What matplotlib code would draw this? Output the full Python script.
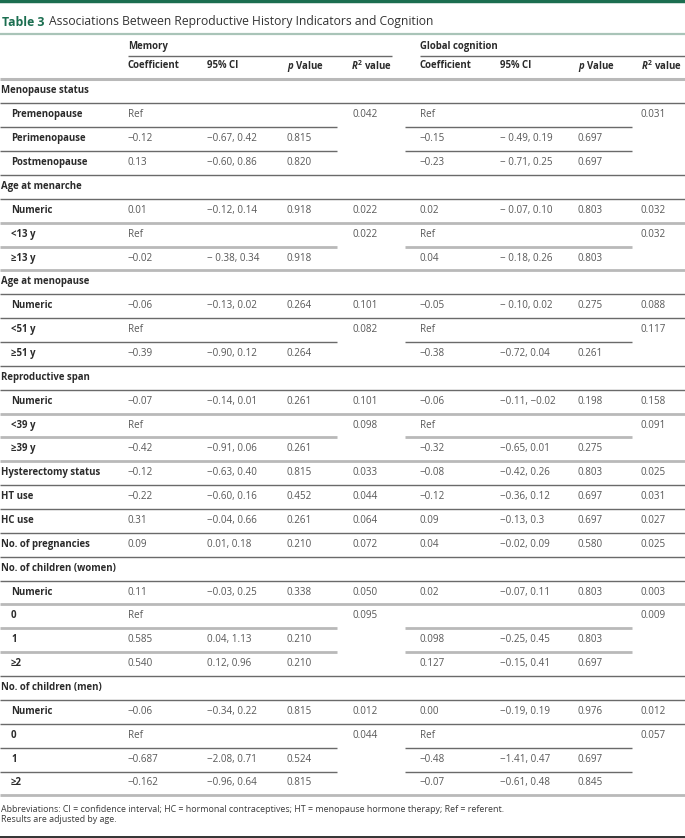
import matplotlib.pyplot as plt
from matplotlib.lines import Line2D

plt.rcParams["font.family"] = ["Open Sans", "DejaVu Sans"]
plt.rcParams["mathtext.fontset"] = "custom"
plt.rcParams["mathtext.it"] = "Open Sans:italic:bold"
plt.rcParams["mathtext.rm"] = "Open Sans:bold"

W, H = 685, 838

TITLE_TAG = "Table 3"
TITLE = "Associations Between Reproductive History Indicators and Cognition"
GROUPS = ["Memory", "Global cognition"]
SUBHEADERS = ["Coefficient", "95% CI", r"$\mathit{p}$ Value", r"$\mathit{R}^{2}$ value"]

# kind: "h" = section header, "s" = indented sub-row, "r" = single row
labels = [
    "Menopause status", "Premenopause", "Perimenopause", "Postmenopause",
    "Age at menarche", "Numeric", "<13 y", "≥13 y",
    "Age at menopause", "Numeric", "<51 y", "≥51 y",
    "Reproductive span", "Numeric", "<39 y", "≥39 y",
    "Hysterectomy status", "HT use", "HC use", "No. of pregnancies",
    "No. of children (women)", "Numeric", "0", "1", "≥2",
    "No. of children (men)", "Numeric", "0", "1", "≥2",
]
kinds = [
    "h", "s", "s", "s",
    "h", "s", "s", "s",
    "h", "s", "s", "s",
    "h", "s", "s", "s",
    "r", "r", "r", "r",
    "h", "s", "s", "s", "s",
    "h", "s", "s", "s", "s",
]
mem_coef = [
    "", "Ref", "−0.12", "0.13",
    "", "0.01", "Ref", "−0.02",
    "", "−0.06", "Ref", "−0.39",
    "", "−0.07", "Ref", "−0.42",
    "−0.12", "−0.22", "0.31", "0.09",
    "", "0.11", "Ref", "0.585", "0.540",
    "", "−0.06", "Ref", "−0.687", "−0.162",
]
mem_ci = [
    "", "", "−0.67, 0.42", "−0.60, 0.86",
    "", "−0.12, 0.14", "", "− 0.38, 0.34",
    "", "−0.13, 0.02", "", "−0.90, 0.12",
    "", "−0.14, 0.01", "", "−0.91, 0.06",
    "−0.63, 0.40", "−0.60, 0.16", "−0.04, 0.66", "0.01, 0.18",
    "", "−0.03, 0.25", "", "0.04, 1.13", "0.12, 0.96",
    "", "−0.34, 0.22", "", "−2.08, 0.71", "−0.96, 0.64",
]
mem_p = [
    "", "", "0.815", "0.820",
    "", "0.918", "", "0.918",
    "", "0.264", "", "0.264",
    "", "0.261", "", "0.261",
    "0.815", "0.452", "0.261", "0.210",
    "", "0.338", "", "0.210", "0.210",
    "", "0.815", "", "0.524", "0.815",
]
mem_r2 = [
    "", "0.042", "", "",
    "", "0.022", "0.022", "",
    "", "0.101", "0.082", "",
    "", "0.101", "0.098", "",
    "0.033", "0.044", "0.064", "0.072",
    "", "0.050", "0.095", "", "",
    "", "0.012", "0.044", "", "",
]
glob_coef = [
    "", "Ref", "−0.15", "−0.23",
    "", "0.02", "Ref", "0.04",
    "", "−0.05", "Ref", "−0.38",
    "", "−0.06", "Ref", "−0.32",
    "−0.08", "−0.12", "0.09", "0.04",
    "", "0.02", "", "0.098", "0.127",
    "", "0.00", "Ref", "−0.48", "−0.07",
]
glob_ci = [
    "", "", "− 0.49, 0.19", "− 0.71, 0.25",
    "", "− 0.07, 0.10", "", "− 0.18, 0.26",
    "", "− 0.10, 0.02", "", "−0.72, 0.04",
    "", "−0.11, −0.02", "", "−0.65, 0.01",
    "−0.42, 0.26", "−0.36, 0.12", "−0.13, 0.3", "−0.02, 0.09",
    "", "−0.07, 0.11", "", "−0.25, 0.45", "−0.15, 0.41",
    "", "−0.19, 0.19", "", "−1.41, 0.47", "−0.61, 0.48",
]
glob_p = [
    "", "", "0.697", "0.697",
    "", "0.803", "", "0.803",
    "", "0.275", "", "0.261",
    "", "0.198", "", "0.275",
    "0.803", "0.697", "0.697", "0.580",
    "", "0.803", "", "0.803", "0.697",
    "", "0.976", "", "0.697", "0.845",
]
glob_r2 = [
    "", "0.031", "", "",
    "", "0.032", "0.032", "",
    "", "0.088", "0.117", "",
    "", "0.158", "0.091", "",
    "0.025", "0.031", "0.027", "0.025",
    "", "0.003", "0.009", "", "",
    "", "0.012", "0.057", "", "",
]
FOOTNOTES = [
    "Abbreviations: CI = confidence interval; HC = hormonal contraceptives; "
    "HT = menopause hormone therapy; Ref = referent.",
    "Results are adjusted by age.",
]

# rule under each row: "D" dark full, "L" light full, "d" dark partial, "l" light partial
rules = [
    "D", "d", "d", "D",
    "D", "L", "l", "L",
    "D", "D", "d", "D",
    "D", "L", "l", "L",
    "D", "D", "D", "D",
    "D", "L", "l", "l", "D",
    "D", "D", "d", "d", "L",
]

GREEN = "#1b6e50"
DARK = "#6a6a6a"
LIGHT = "#b9b9b9"
TXT = "#2b2b2b"
VAL = "#585858"

mem_x = [128, 207, 287, 351]
glob_x = [420, 500, 578, 641]
FS = 6.9
FS_VAL = 7.1

fig = plt.figure(figsize=(W / 100, H / 100), dpi=100)
ax = fig.add_axes([0, 0, 1, 1])
ax.set_xlim(0, W)
ax.set_ylim(H, 0)
ax.axis("off")


def hline(y, x0, x1, color, lw):
    ax.add_line(Line2D([x0, x1], [y, y], color=color, lw=lw, solid_capstyle="butt"))


# top bar and title
hline(1.5, 0, W, GREEN, 3.2)
ax.text(2, 22, TITLE_TAG, fontsize=8.8, fontweight="bold", color=GREEN, va="center")
ax.text(49, 22, TITLE, fontsize=8.7, color="#333333", va="center")
hline(34, 0, W, "#a9c4b8", 1.6)

# group headers
for gx, name, x_end in [(mem_x[0], GROUPS[0], 392), (glob_x[0], GROUPS[1], W)]:
    ax.text(gx, 46, name, fontsize=FS, fontweight="bold", color=TXT, va="center")
    hline(56, gx, x_end, DARK, 1.0)

for cols in (mem_x, glob_x):
    for x, s in zip(cols, SUBHEADERS):
        ax.text(x, 66, s, fontsize=FS, fontweight="bold", color=TXT, va="center")
hline(79.5, 0, W, LIGHT, 2.2)

y0, dy = 91, 23.86
for i, lab in enumerate(labels):
    y = y0 + i * dy
    lx = 11 if kinds[i] == "s" else 1
    ax.text(lx, y, lab, fontsize=FS, fontweight="bold", color=TXT, va="center")
    for x, val in zip(mem_x, [mem_coef[i], mem_ci[i], mem_p[i], mem_r2[i]]):
        if val:
            ax.text(x + (2 if x == mem_x[3] else 0), y, val, fontsize=FS_VAL, color=VAL, va="center")
    for x, val in zip(glob_x, [glob_coef[i], glob_ci[i], glob_p[i], glob_r2[i]]):
        if val:
            ax.text(x, y, val, fontsize=FS_VAL, color=VAL, va="center")

    ry = y + dy / 2 + 0.5
    r = rules[i]
    color = DARK if r in "Dd" else LIGHT
    lw = 1.0 if r in "Dd" else 2.0
    if r in "DL":
        hline(ry, 0, W, color, lw)
    else:
        hline(ry, 0, 337, color, lw)
        hline(ry, 405, 632, color, lw)

ax.text(1, 809, FOOTNOTES[0], fontsize=6.4, color="#3a3a3a", va="center")
ax.text(1, 819.5, FOOTNOTES[1], fontsize=6.4, color="#3a3a3a", va="center")
hline(836.5, 0, W, "#333333", 1.4)

fig.savefig("out.png", dpi=100)
